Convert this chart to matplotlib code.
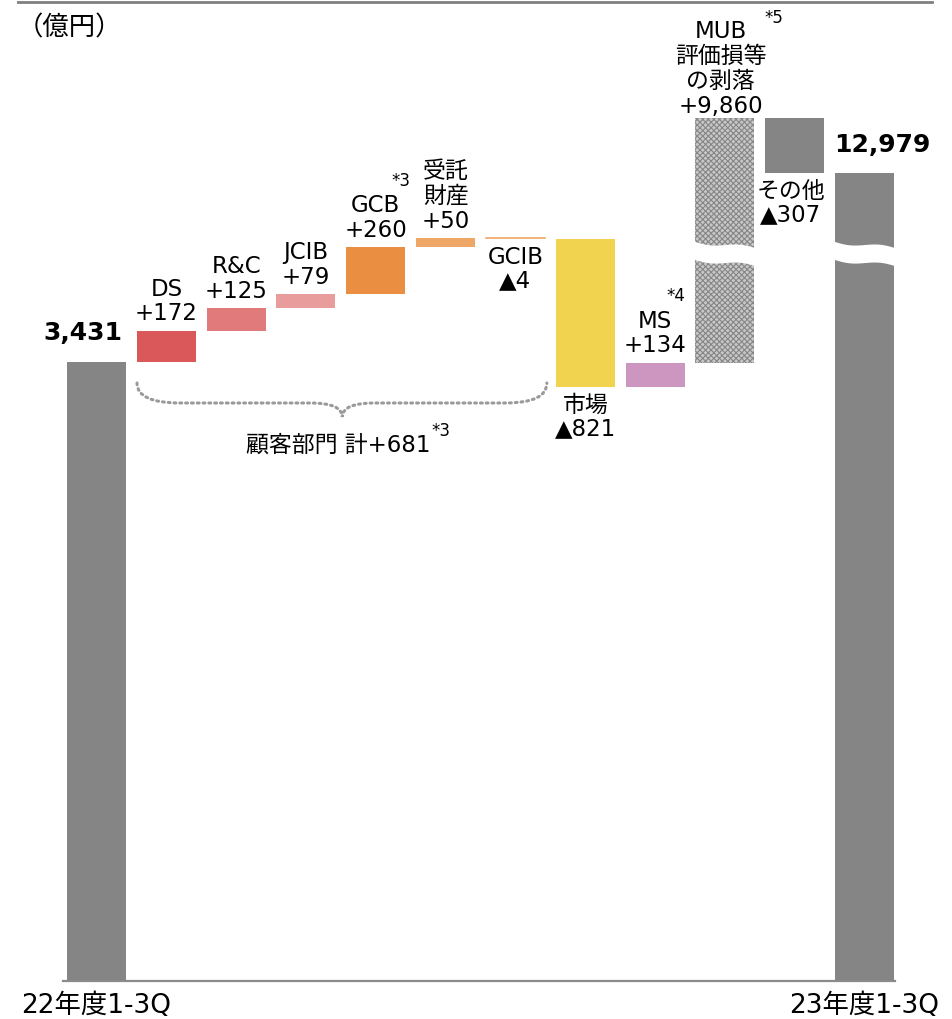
import numpy as np
import matplotlib
matplotlib.use('Agg')
import matplotlib.pyplot as plt
from matplotlib.path import Path
from matplotlib.patches import PathPatch
from matplotlib.lines import Line2D

plt.rcParams['font.family'] = ['DejaVu Sans', 'Noto Sans CJK JP']
plt.rcParams['hatch.linewidth'] = 0.8

# data (億円)
start_label = '22年度1-3Q'
end_label = '23年度1-3Q'
start_value = 3431
end_value = 12979
step_names = ['DS', 'R&C', 'JCIB', 'GCB', '受託\n財産', 'GCIB', '市場', 'MS',
              'MUB\n評価損等\nの剥落', 'その他']
step_values = [172, 125, 79, 260, 50, -4, -821, 134, 9860, -307]
step_colors = ['#da575a', '#e17a7b', '#e99c9c', '#ea8f41', '#eea766', '#eea766',
               '#f1d34f', '#cc96c0', '#c4c4c4', '#858585']
customer_total = 681

GRAY = '#858585'
FS = 16.5


# broken axis: squeeze the empty band between 4,200 and 12,700
def fwd(v):
    return np.interp(v, [-1e6, 4199, 12700, 1e6], [-1e6, 4199, 4200, 1e6 - 8500])


def inv(y):
    return np.interp(y, [-1e6, 4199, 4200, 1e6 - 8500], [-1e6, 4199, 12700, 1e6])


def fmt(v):
    return f'+{v:,}' if v > 0 else f'▲{abs(v):,}'


fig = plt.figure(figsize=(9.53, 10.19), dpi=100)
ax = fig.add_axes([0.0661, 0.0373, 0.8731, 0.9436])
ax.set_yscale('function', functions=(fwd, inv))
ax.set_xlim(-0.48, 11.437)
ax.set_ylim(0, 13830)

W = 0.845
n = len(step_values)

# start / end bars
ax.bar(0, start_value, width=W, color=GRAY, linewidth=0)
ax.bar(n + 1, end_value, width=W, color=GRAY, linewidth=0)

# steps
level = start_value
tops = []
for i, (name, v, c) in enumerate(zip(step_names, step_values, step_colors)):
    x = i + 1
    is_mub = name.startswith('MUB')
    if is_mub:
        ax.bar(x, v, bottom=level, width=W, facecolor='#c8c8c8',
               edgecolor='#868686', hatch='xxxxxx', linewidth=0)
    elif v == -4:
        ax.plot([x - W / 2, x + W / 2], [level, level], color=c, lw=1.2)
    else:
        ax.bar(x, v, bottom=level, width=W, color=c, linewidth=0)
    lo, hi = min(level, level + v), max(level, level + v)
    dx = -3 if is_mub or name == 'その他' else 0
    if v > 0:
        ax.annotate(name + '\n' + fmt(v), (x, hi), xytext=(dx, 0 if is_mub else 4),
                    textcoords='offset points', ha='center', va='bottom',
                    fontsize=FS, linespacing=1.1)
    else:
        ax.annotate(name + '\n' + fmt(v), (x, lo), xytext=(dx, -5),
                    textcoords='offset points', ha='center', va='top',
                    fontsize=FS, linespacing=1.0)
    tops.append(hi)
    level += v

# footnote marks
ax.annotate('*3', (4, tops[3]), xytext=(18, 48), textcoords='offset points',
            ha='center', va='center', fontsize=12)
ax.annotate('*4', (8, tops[7]), xytext=(15, 48), textcoords='offset points',
            ha='center', va='center', fontsize=12)
ax.annotate('*5', (9, tops[8]), xytext=(35, 72), textcoords='offset points',
            ha='center', va='center', fontsize=12)

# totals
ax.annotate(f'{start_value:,}', (0, start_value), xytext=(-10, 21),
            textcoords='offset points', ha='center', va='center',
            fontsize=18, fontweight='bold')
ax.annotate(f'{end_value:,}', (n + 1, end_value), xytext=(13, 20),
            textcoords='offset points', ha='center', va='center',
            fontsize=18, fontweight='bold')

# axis break (white wave)
t = np.linspace(0, 1, 60)
for x in [9, n + 1]:
    xs = x - W / 2 - 0.05 + t * (W + 0.1)
    upper = 4105 - 45 * t - 12 * np.sin(2 * np.pi * t)
    ax.fill_between(xs, upper - 100, upper, color='white', linewidth=0, zorder=3)

# brace under the customer segments
verts = [(0.58, 3315), (0.58, 3204), (1.2, 3204), (3.06, 3204), (3.52, 3204),
         (3.52, 3126), (3.52, 3204), (3.98, 3204), (5.85, 3204), (6.45, 3204),
         (6.45, 3315)]
codes = [Path.MOVETO, Path.CURVE3, Path.CURVE3, Path.LINETO, Path.CURVE3,
         Path.CURVE3, Path.CURVE3, Path.CURVE3, Path.LINETO, Path.CURVE3,
         Path.CURVE3]
ax.add_patch(PathPatch(Path(verts, codes), fill=False, edgecolor='#9a9a9a',
                       linewidth=2.2, linestyle=(0, (0.6, 1.3)),
                       capstyle='round'))
ax.annotate(f'顧客部門 計+{customer_total}', (3.52, 3126), xytext=(-3, -20),
            textcoords='offset points', ha='center', va='center', fontsize=FS)
ax.annotate('*3', (3.52, 3126), xytext=(71, -10), textcoords='offset points',
            ha='center', va='center', fontsize=12)

# axes styling
ax.set_xticks([0, n + 1], [start_label, end_label], fontsize=19)
ax.tick_params(axis='x', length=0, pad=9)
ax.set_yticks([])
for s in ['top', 'left', 'right']:
    ax.spines[s].set_visible(False)
ax.spines['bottom'].set_color('#8a8a8a')
ax.spines['bottom'].set_linewidth(1.6)

fig.text(69 / 953, 1 - 28 / 1019, '（億円）', ha='center', va='center',
         fontsize=19, family='Noto Sans CJK JP')
fig.add_artist(Line2D([18 / 953, 932 / 953], [1 - 1.5 / 1019] * 2,
                      color='#808080', linewidth=2))

fig.savefig('out.png', dpi=100)
